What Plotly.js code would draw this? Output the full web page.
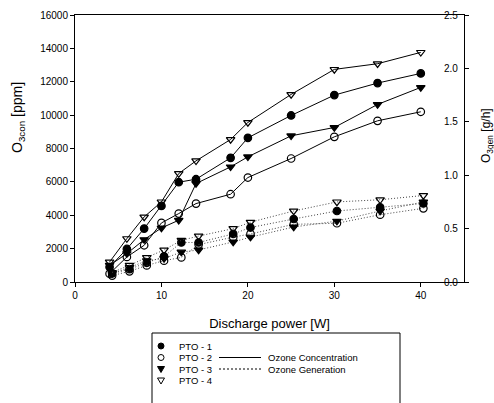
<!DOCTYPE html>
<html>
<head>
<meta charset="utf-8">
<script src="https://cdn.plot.ly/plotly-3.0.1.min.js"></script>
<style>html,body{margin:0;padding:0;background:#fff;}#chart{width:494px;height:403px;}</style>
</head>
<body>
<div id="chart"></div>
<script>
// ---- data ----
var powerConc = [4, 6, 8, 10, 12, 14, 18, 20, 25, 30, 35, 40];
var powerGen = [4.3, 6.3, 8.3, 10.3, 12.3, 14.3, 18.3, 20.3, 25.3, 30.3, 35.3, 40.3];

var concPTO1 = [900, 1980, 3200, 4560, 5980, 6160, 7440, 8640, 9980, 11200, 11920, 12500];
var concPTO2 = [500, 1500, 2200, 3540, 4100, 4700, 5260, 6260, 7400, 8700, 9660, 10200];
var concPTO3 = [1000, 1700, 2540, 3240, 3700, 5900, 6900, 7500, 8760, 9260, 10640, 11660];
var concPTO4 = [1200, 2600, 3900, 4800, 6500, 7260, 8540, 9560, 11240, 12740, 13080, 13760];

var genPTO1 = [0.08, 0.12, 0.18, 0.24, 0.37, 0.37, 0.45, 0.51, 0.59, 0.665, 0.70, 0.735];
var genPTO2 = [0.06, 0.10, 0.155, 0.20, 0.23, 0.35, 0.42, 0.45, 0.54, 0.55, 0.63, 0.69];
var genPTO3 = [0.08, 0.135, 0.20, 0.22, 0.28, 0.30, 0.375, 0.42, 0.515, 0.57, 0.665, 0.75];
var genPTO4 = [0.09, 0.156, 0.23, 0.30, 0.39, 0.43, 0.50, 0.56, 0.665, 0.75, 0.77, 0.81];

var seriesNames = ['PTO - 1', 'PTO - 2', 'PTO - 3', 'PTO - 4'];
var lineNames = ['Ozone Concentration', 'Ozone Generation'];
var xTitle = 'Discharge power [W]';
var yTitle = 'O<sub>3con</sub> [ppm]';
var y2Title = 'O<sub>3gen</sub> [g/h]';

// ---- styling ----
var FONT = 'Liberation Sans, Arial, Helvetica, sans-serif';
var symbols = ['circle', 'circle-open', 'triangle-down', 'triangle-down-open'];
var concData = [concPTO1, concPTO2, concPTO3, concPTO4];
var genData = [genPTO1, genPTO2, genPTO3, genPTO4];

var traces = [];
for (var i = 0; i < 4; i++) {
  traces.push({
    x: powerGen, y: genData[i], yaxis: 'y2', type: 'scatter', mode: 'lines+markers',
    name: seriesNames[i] + ' ' + lineNames[1], showlegend: false,
    line: {color: '#444', width: 1, dash: '1px,2px'},
    marker: {symbol: symbols[i], size: 7.5, color: '#000', line: {color: '#000', width: 1.2}}
  });
}
for (var j = 0; j < 4; j++) {
  traces.push({
    x: powerConc, y: concData[j], type: 'scatter', mode: 'lines+markers',
    name: seriesNames[j] + ' ' + lineNames[0], showlegend: false,
    line: {color: '#000', width: 1},
    marker: {symbol: symbols[j], size: 7.5, color: '#000', line: {color: '#000', width: 1.2}}
  });
}

// ---- layout geometry ----
var W = 494, H = 403, ML = 75, MR = 30, MT = 15, MB = 121;
var PW = W - ML - MR, PH = H - MT - MB;
function px(x) { return (x - ML) / PW; }
function py(y) { return (H - MB - y) / PH; }

var shapes = [];
var annotations = [];
// legend frame
shapes.push({type: 'rect', xref: 'paper', yref: 'paper', x0: px(152), x1: px(400), y0: py(333), y1: py(412),
  line: {color: '#000', width: 1}, fillcolor: 'rgba(0,0,0,0)'});
var rowY = [346, 357.5, 369, 380.5];
var mr = 3;
for (var k = 0; k < 4; k++) {
  var cx = 161, cy = rowY[k];
  var filled = (k % 2 === 0);
  if (k < 2) {
    shapes.push({type: 'circle', xref: 'paper', yref: 'paper',
      x0: px(cx - mr), x1: px(cx + mr), y0: py(cy + mr), y1: py(cy - mr),
      line: {color: '#000', width: 1}, fillcolor: filled ? '#000' : '#fff'});
  } else {
    var p = 'M' + px(cx - mr - 0.5) + ',' + py(cy - mr + 0.5) + ' L' + px(cx + mr + 0.5) + ',' + py(cy - mr + 0.5) +
            ' L' + px(cx) + ',' + py(cy + mr + 0.5) + ' Z';
    shapes.push({type: 'path', xref: 'paper', yref: 'paper', path: p,
      line: {color: '#000', width: 1}, fillcolor: filled ? '#000' : '#fff'});
  }
  annotations.push({xref: 'paper', yref: 'paper', x: px(177), y: py(cy), xanchor: 'left', yanchor: 'middle',
    text: seriesNames[k], showarrow: false, font: {family: FONT, size: 9.5, color: '#000'}});
}
var lineRows = [rowY[1], rowY[2]];
var lineDash = ['solid', '2px,2px'];
for (var m = 0; m < 2; m++) {
  shapes.push({type: 'line', xref: 'paper', yref: 'paper', x0: px(219), x1: px(261), y0: py(lineRows[m]), y1: py(lineRows[m]),
    line: {color: '#000', width: 1, dash: lineDash[m]}});
  annotations.push({xref: 'paper', yref: 'paper', x: px(266), y: py(lineRows[m]), xanchor: 'left', yanchor: 'middle',
    text: lineNames[m], showarrow: false, font: {family: FONT, size: 9.5, color: '#000'}});
}
// y-axis titles
annotations.push({xref: 'paper', yref: 'paper', x: px(18), y: py(118), xanchor: 'center', yanchor: 'middle',
  text: yTitle, textangle: -90, showarrow: false, font: {family: FONT, size: 14, color: '#000'}});
annotations.push({xref: 'paper', yref: 'paper', x: px(487), y: py(136), xanchor: 'center', yanchor: 'middle',
  text: y2Title, textangle: -90, showarrow: false, font: {family: FONT, size: 12, color: '#000'}});

var layout = {
  width: W, height: H,
  margin: {l: ML, r: MR, t: MT, b: MB, pad: 0},
  paper_bgcolor: '#fff', plot_bgcolor: '#fff',
  showlegend: false,
  font: {family: FONT, size: 10, color: '#000'},
  xaxis: {
    range: [0, 45], tickvals: [0, 10, 20, 30, 40], ticks: 'outside', ticklen: 4, tickcolor: '#000',
    showline: true, linecolor: '#000', linewidth: 1, mirror: true, showgrid: false, zeroline: false,
    tickfont: {family: FONT, size: 10, color: '#000'},
    title: {text: xTitle, font: {family: FONT, size: 13, color: '#000'}, standoff: 18}
  },
  yaxis: {
    range: [0, 16000], dtick: 2000, tickformat: 'd', ticks: 'outside', ticklen: 4, tickcolor: '#000',
    showline: true, linecolor: '#000', linewidth: 1, showgrid: false, zeroline: false,
    tickfont: {family: FONT, size: 10, color: '#000'}
  },
  yaxis2: {
    overlaying: 'y', side: 'right', range: [0, 2.5], dtick: 0.5, tickformat: '.1f',
    ticks: 'outside', ticklen: 4, tickcolor: '#000', ticklabelstandoff: -27,
    showline: true, linecolor: '#000', linewidth: 1, showgrid: false, zeroline: false,
    tickfont: {family: FONT, size: 10, color: '#000'}
  },
  shapes: shapes,
  annotations: annotations
};

Plotly.newPlot('chart', traces, layout, {displayModeBar: false, staticPlot: true});
</script>
</body>
</html>
